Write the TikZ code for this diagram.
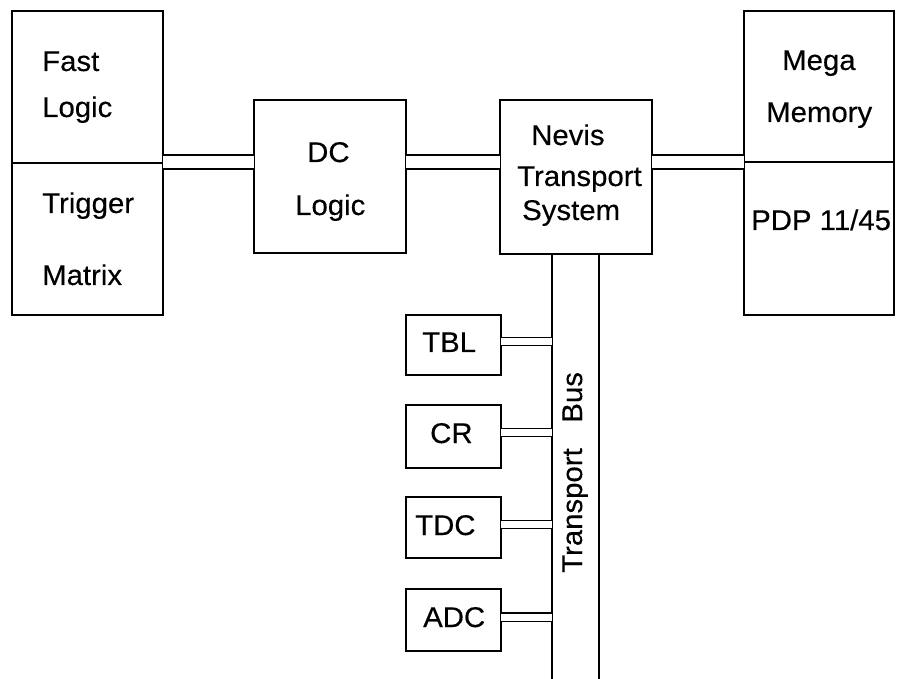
\documentclass[tikz,border=0pt]{standalone}
\usepackage{fontspec}
\setmainfont{Liberation Sans}[FakeStretch=1.03,FakeBold=0.3]
\begin{document}
\begin{tikzpicture}[x=1pt,y=-1pt,
  box/.style={draw,line width=1.3pt,rectangle,inner sep=0pt,outer sep=0pt},
  lbl/.style={anchor=base west,inner sep=0pt,font=\fontsize{28.5}{32}\selectfont},
  bigpipe/.style={draw,line width=1.3pt,double,double distance=12.7pt},
  smallpipe/.style={draw,line width=1.3pt,double,double distance=7pt},
  bus/.style={draw,line width=1.3pt}]
\useasboundingbox (0,0) rectangle (898,679);
% boxes
\node[box,minimum width=151pt,minimum height=152pt] (fast) at (87.5,87) {};
\node[box,minimum width=151pt,minimum height=152pt] (trig) at (87.5,239) {};
\node[box,minimum width=152pt,minimum height=153pt] (dc) at (330,176.5) {};
\node[box,minimum width=152pt,minimum height=154pt] (nevis) at (576,177) {};
\node[box,minimum width=150pt,minimum height=151pt] (mega) at (819,86.5) {};
\node[box,minimum width=150pt,minimum height=153pt] (pdp) at (819,238.5) {};
\node[box,minimum width=95pt,minimum height=60pt] (tbl) at (453.5,345) {};
\node[box,minimum width=95pt,minimum height=63pt] (cr) at (453.5,436.5) {};
\node[box,minimum width=95pt,minimum height=61pt] (tdc) at (453.5,527.5) {};
\node[box,minimum width=95pt,minimum height=62pt] (adc) at (453.5,620) {};
% texts
\node[lbl] (t1) at (42,71) {Fast};
\node[lbl] (t2) at (42,117) {Logic};
\node[lbl] (t3) at (42,213) {Trigger};
\node[lbl] (t4) at (42,285) {Matrix};
\node[lbl] (t5) at (307,162) {DC};
\node[lbl] (t6) at (295,215) {Logic};
\node[lbl] (t7) at (531,145) {Nevis};
\node[lbl] (t8) at (517,186) {Transport};
\node[lbl] (t9) at (522,220) {System};
\node[lbl] (t10) at (782,70) {Mega};
\node[lbl] (t11) at (766,122) {Memory};
\node[lbl] (t12) at (751,230) {PDP 11/45};
\node[lbl] (t13) at (422,352) {TBL};
\node[lbl] (t14) at (430,443) {CR};
\node[lbl] (t15) at (415,535) {TDC};
\node[lbl] (t16) at (423,627) {ADC};
\node[lbl,rotate=90] (t17) at (582,573) {Transport\hspace{0.9em}Bus};
% bus
\coordinate (busL) at (552,679);
\coordinate (busR) at (599,679);
\draw[bus] (nevis.south -| busL) -- (busL);
\draw[bus] (nevis.south -| busR) -- (busR);
% connectors
\coordinate (yA) at (0,162);
\draw[bigpipe] (fast.east |- yA) -- (dc.west |- yA);
\draw[bigpipe] (dc.east |- yA) -- (nevis.west |- yA);
\draw[bigpipe] (nevis.east |- yA) -- (mega.west |- yA);
\coordinate (y1) at (0,341.5);
\coordinate (y2) at (0,432.5);
\coordinate (y3) at (0,524.5);
\coordinate (y4) at (0,617);
\draw[smallpipe] (tbl.east |- y1) -- (busL |- y1);
\draw[smallpipe] (cr.east |- y2) -- (busL |- y2);
\draw[smallpipe] (tdc.east |- y3) -- (busL |- y3);
\draw[smallpipe] (adc.east |- y4) -- (busL |- y4);
\end{tikzpicture}
\end{document}
